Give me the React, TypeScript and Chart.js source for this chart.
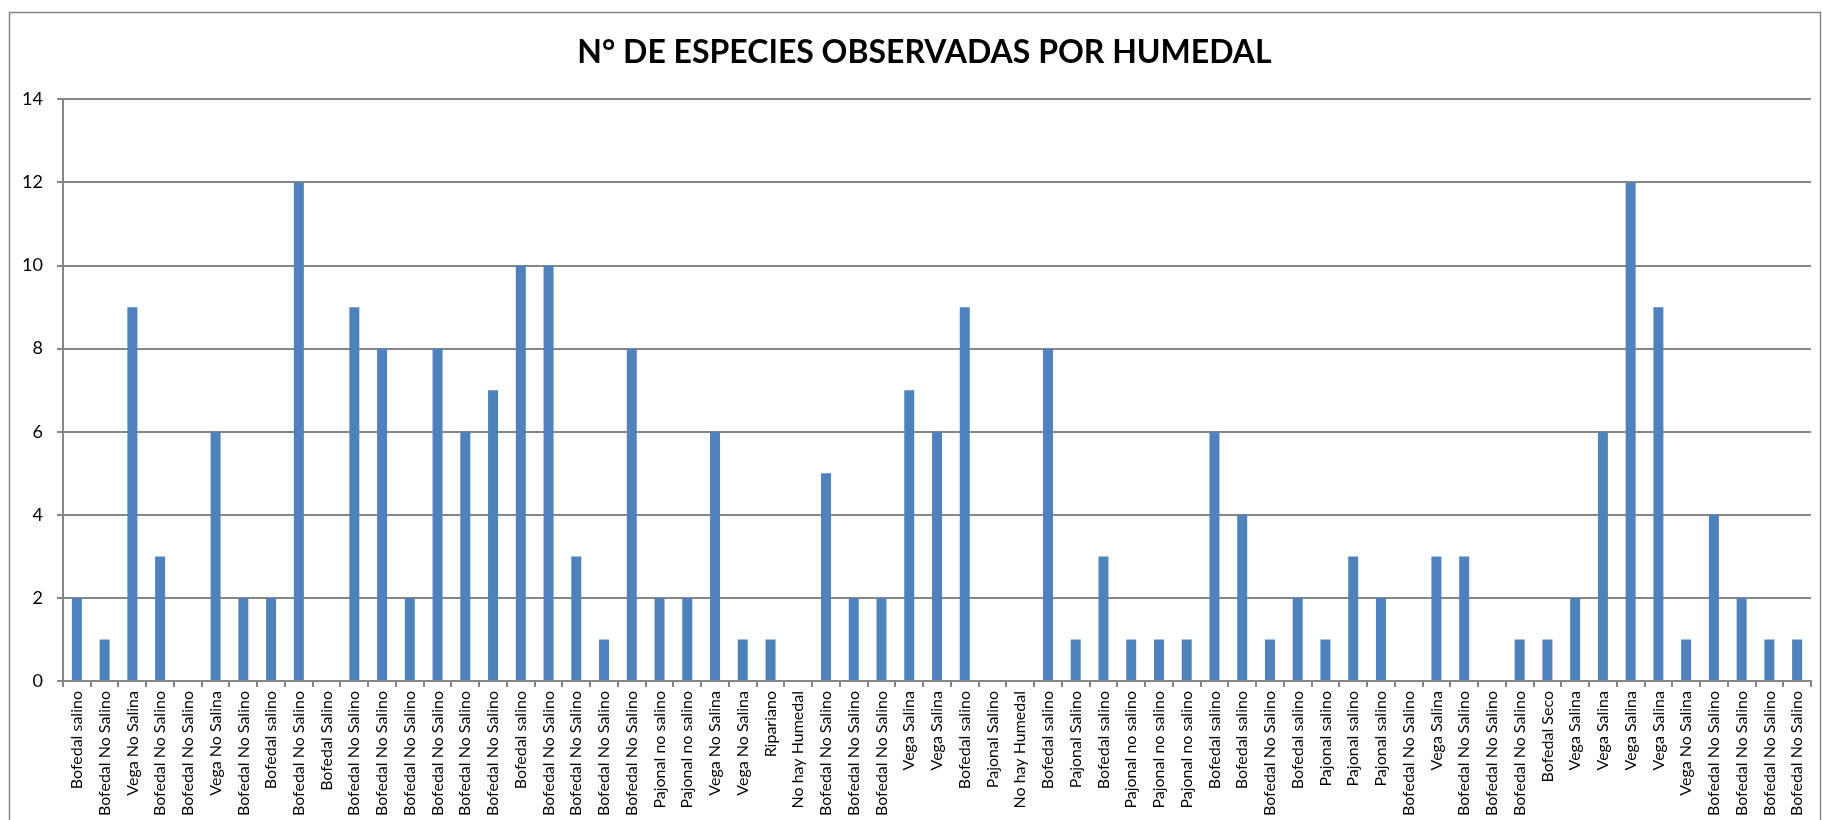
import React, { useEffect, useRef } from "react";
import { Chart, registerables } from "chart.js";

Chart.register(...registerables);

const TITLE = "N° DE ESPECIES OBSERVADAS POR HUMEDAL";

const categories: string[] = [
  "Bofedal salino", "Bofedal No Salino", "Vega No Salina", "Bofedal No Salino", "Bofedal No Salino",
  "Vega No Salina", "Bofedal No Salino", "Bofedal salino", "Bofedal No Salino", "Bofedal Salino",
  "Bofedal No Salino", "Bofedal No Salino", "Bofedal No Salino", "Bofedal No Salino", "Bofedal No Salino",
  "Bofedal No Salino", "Bofedal salino", "Bofedal No Salino", "Bofedal No Salino", "Bofedal No Salino",
  "Bofedal No Salino", "Pajonal no salino", "Pajonal no salino", "Vega No Salina", "Vega No Salina",
  "Ripariano", "No hay Humedal", "Bofedal No Salino", "Bofedal No Salino", "Bofedal No Salino",
  "Vega Salina", "Vega Salina", "Bofedal salino", "Pajonal Salino", "No hay Humedal",
  "Bofedal salino", "Pajonal Salino", "Bofedal salino", "Pajonal no salino", "Pajonal no salino",
  "Pajonal no salino", "Bofedal salino", "Bofedal salino", "Bofedal No Salino", "Bofedal salino",
  "Pajonal salino", "Pajonal salino", "Pajonal salino", "Bofedal No Salino", "Vega Salina",
  "Bofedal No Salino", "Bofedal No Salino", "Bofedal No Salino", "Bofedal Seco", "Vega Salina",
  "Vega Salina", "Vega Salina", "Vega Salina", "Vega No Salina", "Bofedal No Salino",
  "Bofedal No Salino", "Bofedal No Salino", "Bofedal No Salino",
];

const especies: number[] = [
  2, 1, 9, 3, 0,
  6, 2, 2, 12, 0,
  9, 8, 2, 8, 6,
  7, 10, 10, 3, 1,
  8, 2, 2, 6, 1,
  1, 0, 5, 2, 2,
  7, 6, 9, 0, 0,
  8, 1, 3, 1, 1,
  1, 6, 4, 1, 2,
  1, 3, 2, 0, 3,
  3, 0, 1, 1, 2,
  6, 12, 9, 1, 4,
  2, 1, 1,
];

const yTicks: number[] = [0, 2, 4, 6, 8, 10, 12, 14];

const GRAY = "#868686";

const borderPlugin = {
  id: "outerBorder",
  afterDraw(chart: any) {
    const ctx = chart.ctx;
    ctx.save();
    ctx.strokeStyle = GRAY;
    ctx.lineWidth = 1.5;
    ctx.strokeRect(9.5, 12.5, 1811, 900);
    ctx.restore();
  },
};

export default function App() {
  const ref = useRef<HTMLCanvasElement | null>(null);
  useEffect(() => {
    if (!ref.current) return;
    const chart = new Chart(ref.current, {
      type: "bar",
      data: {
        labels: categories,
        datasets: [
          {
            label: "N° de especies",
            data: especies,
            backgroundColor: "#4F81BD",
            borderWidth: 0,
            categoryPercentage: 1,
            barPercentage: 0.36,
          },
        ],
      },
      options: {
        animation: false,
        responsive: false,
        devicePixelRatio: 1,
        layout: { padding: { left: 20, right: -7, top: 12, bottom: 0 } },
        plugins: {
          legend: { display: false },
          tooltip: { enabled: false },
          title: {
            display: true,
            text: TITLE,
            color: "#000000",
            font: { family: "Lato, 'Open Sans', sans-serif", size: 32, weight: "bold" },
            padding: { top: 21, bottom: 28 },
          },
        },
        scales: {
          x: {
            grid: {
              display: true,
              drawOnChartArea: false,
              drawTicks: true,
              tickLength: 6,
              color: GRAY,
              lineWidth: 2,
              offset: true,
            },
            border: { display: true, color: GRAY, width: 2 },
            ticks: {
              autoSkip: false,
              minRotation: 90,
              maxRotation: 90,
              padding: 4,
              color: "#000000",
              font: { family: "Lato, 'Open Sans', sans-serif", size: 16 },
            },
          },
          y: {
            min: 0,
            max: 14,
            afterBuildTicks: (axis: any) => {
              axis.ticks = yTicks.map((v) => ({ value: v }));
            },
            afterFit: (axis: any) => {
              axis.width = 43;
            },
            grid: {
              display: true,
              drawTicks: true,
              tickLength: 6,
              color: GRAY,
              lineWidth: 2,
            },
            border: { display: true, color: GRAY, width: 2 },
            ticks: {
              padding: 14,
              color: "#000000",
              font: { family: "Lato, 'Open Sans', sans-serif", size: 18 },
            },
          },
          yRightSpace: {
            type: "linear",
            position: "right",
            display: true,
            grid: { display: false, drawTicks: false },
            border: { display: false },
            ticks: { display: false },
            afterFit: (axis: any) => {
              axis.width = 18;
            },
          },
        },
      },
      plugins: [borderPlugin],
    });
    return () => chart.destroy();
  }, []);
  return (
    <div style={{ position: "fixed", left: 0, top: 0, width: 1822, height: 820, background: "#fff" }}>
      <canvas ref={ref} width={1822} height={820} style={{ display: "block", width: 1822, height: 820 }} />
    </div>
  );
}
